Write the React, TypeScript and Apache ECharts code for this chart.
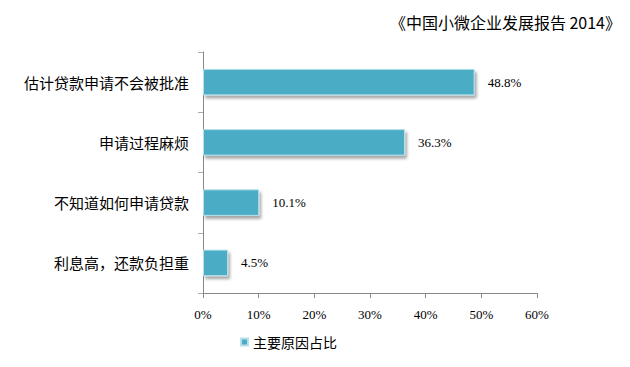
import React, { useEffect, useRef } from "react";
import * as echarts from "echarts";

const categories = ["估计贷款申请不会被批准", "申请过程麻烦", "不知道如何申请贷款", "利息高，还款负担重"];
const values = [48.8, 36.3, 10.1, 4.5];
const seriesName = "主要原因占比";
const titleText = "《中国小微企业发展报告 2014》";

export default function App() {
  const ref = useRef<HTMLDivElement>(null);
  useEffect(() => {
    if (!ref.current) return;
    const chart = echarts.init(ref.current, undefined, { renderer: "svg" });
    chart.setOption({
      animation: false,
      title: {
        text: titleText,
        right: 9,
        top: 4,
        padding: 0,
        textStyle: { fontSize: 16, lineHeight: 20, fontWeight: "normal", color: "#000", fontFamily: "'Noto Sans CJK SC', 'Liberation Serif', serif" },
      },
      legend: {
        bottom: 5,
        left: 227,
        itemWidth: 7,
        itemHeight: 7,
        icon: "rect",
        itemGap: 8,
        textStyle: { fontSize: 14, color: "#000", fontFamily: "'Noto Sans CJK SC', sans-serif" },
        data: [seriesName],
      },
      grid: { left: 195, right: 93, top: 44, bottom: 66, containLabel: false },
      xAxis: {
        type: "value",
        min: 0,
        max: 60,
        interval: 10,
        axisLine: { show: true, lineStyle: { color: "#888" } },
        axisTick: { show: true, length: 5, lineStyle: { color: "#888" } },
        splitLine: { show: false },
        axisLabel: {
          formatter: "{value}%",
          fontSize: 13,
          color: "#000",
          margin: 15,
          fontFamily: "'Liberation Serif', serif",
        },
      },
      yAxis: {
        type: "category",
        inverse: true,
        data: categories,
        axisLine: { show: true, lineStyle: { color: "#888" } },
        axisTick: { show: true, length: 5, lineStyle: { color: "#aaa" } },
        axisLabel: {
          fontSize: 15,
          color: "#000",
          margin: 14,
          fontFamily: "'Noto Sans CJK SC', sans-serif",
        },
      },
      series: [
        {
          name: seriesName,
          type: "bar",
          data: values,
          barWidth: "44%",
          itemStyle: {
            color: "#4BACC6",
            borderColor: "#b8e0ea",
            borderWidth: 1,
            shadowColor: "rgba(0,0,0,0.35)",
            shadowBlur: 3,
            shadowOffsetX: 2,
            shadowOffsetY: 3,
          },
          label: {
            show: true,
            position: "right",
            distance: 13,
            formatter: "{c}%",
            fontSize: 13,
            color: "#000",
            fontFamily: "'Liberation Serif', serif",
          },
        },
      ],
    });
    return () => chart.dispose();
  }, []);
  return <div ref={ref} style={{ width: 622, height: 351 }} />;
}
